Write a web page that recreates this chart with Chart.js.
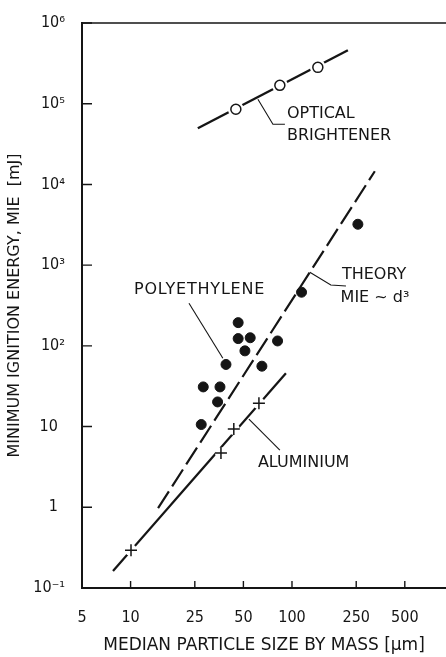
<!DOCTYPE html>
<html>
<head>
<meta charset="utf-8">
<script src="https://cdn.jsdelivr.net/npm/chart.js@4/dist/chart.umd.min.js"></script>
<style>
html,body{margin:0;padding:0;background:#fff;}
#wrap{width:446px;height:657px;overflow:hidden;}
canvas{display:block;}
</style>
</head>
<body>
<div id="wrap"><canvas id="c" width="446" height="657"></canvas></div>
<script>
// ---- tick values & labels ----
const xTickValues = [5, 10, 25, 50, 100, 250, 500];
const xTickLabels = ['5', '10', '25', '50', '100', '250', '500'];
const yTickValues = [0.1, 1, 10, 100, 1000, 1e4, 1e5, 1e6];
const yTickLabels = ['10\u207B\u00B9', '1\u2002', '10\u2002', '10\u00B2', '10\u00B3', '10\u2074', '10\u2075', '10\u2076'];

// ---- optical brightener ----
const opticalSize = [44.9, 84.1, 144.6];
const opticalMIE = [85300, 169000, 282000];
const opticalLineSize = [26.1, 222];
const opticalLineMIE = [49700, 459000];

// ---- polyethylene ----
const polySize = [256, 114.6, 46.4, 46.4, 55.1, 81.4, 51.1, 39.0, 65.1, 28.2, 35.8, 34.6, 27.4];
const polyMIE = [3210, 462, 194, 123, 126, 115, 86.7, 58.8, 56.0, 31.0, 31.0, 20.2, 10.6];

// ---- theory MIE ~ d^3 ----
const theorySize = [14.8, 326];
const theoryMIE = [0.975, 14560];

// ---- aluminium ----
const aluSize = [10.06, 36.3, 43.6, 62.4];
const aluMIE = [0.294, 4.69, 9.3, 19.5];
const aluLineSize = [7.78, 91.7];
const aluLineMIE = [0.162, 45.8];

// ---- annotation labels (data coordinates) ----
const labelTexts = ['OPTICAL', 'BRIGHTENER', 'THEORY', 'MIE ~ d\u00B3', 'POLYETHYLENE', 'ALUMINIUM'];
const labelSize = [93, 93, 204, 200, 10.5, 61.5];
const labelMIE = [74000, 39500, 750, 389, 489, 3.52];
const leaderSize = [[61.5, 76.2, 90.4], [129, 174, 216], [23.0, 37.3], [54.1, 84.1]];
const leaderMIE = [[113500, 55600, 55600], [817, 568, 552], [337, 70.3], [12.4, 5.1]];

const X_TITLE = 'MEDIAN PARTICLE SIZE BY MASS [\u00B5m]';
const Y_TITLE = 'MINIMUM IGNITION ENERGY, MIE  [mJ]';

const zip = (xs, ys) => xs.map((x, i) => ({x: x, y: ys[i]}));
const INK = '#151515';

const frame = {
  id: 'frame',
  afterDatasetsDraw(chart) {
    const ctx = chart.ctx, a = chart.chartArea, xs = chart.scales.x, ys = chart.scales.y;
    ctx.save();
    ctx.strokeStyle = INK;
    ctx.lineWidth = 1.6;
    ctx.beginPath();
    ctx.moveTo(a.left, a.top); ctx.lineTo(a.right, a.top);
    ctx.stroke();
    ctx.lineWidth = 1.4;
    ctx.beginPath();
    yTickValues.forEach(v => { const p = ys.getPixelForValue(v); ctx.moveTo(a.left, p); ctx.lineTo(a.left + 10, p); });
    xTickValues.slice(1).forEach(v => { const p = xs.getPixelForValue(v); ctx.moveTo(p, a.bottom); ctx.lineTo(p, a.bottom - 7); });
    ctx.stroke();
    // leaders
    ctx.lineWidth = 1.1;
    leaderSize.forEach((xsArr, k) => {
      ctx.beginPath();
      xsArr.forEach((xv, i) => {
        const px = xs.getPixelForValue(xv), py = ys.getPixelForValue(leaderMIE[k][i]);
        if (i === 0) ctx.moveTo(px, py); else ctx.lineTo(px, py);
      });
      ctx.stroke();
    });
    // labels
    ctx.fillStyle = INK;
    ctx.font = '16px "DejaVu Sans"';
    ctx.textAlign = 'left';
    ctx.textBaseline = 'middle';
    labelTexts.forEach((t, i) => {
      if (t === 'POLYETHYLENE') { try { ctx.letterSpacing = '0.8px'; } catch (e) {} }
      else { try { ctx.letterSpacing = '0px'; } catch (e) {} }
      ctx.fillText(t, xs.getPixelForValue(labelSize[i]), ys.getPixelForValue(labelMIE[i]));
    });
    ctx.restore();
  }
};

new Chart(document.getElementById('c'), {
  type: 'scatter',
  data: {
    datasets: [
      {data: zip(opticalLineSize, opticalLineMIE), showLine: true, borderColor: INK, borderWidth: 2.4, pointRadius: 0, order: 10},
      {data: zip(opticalSize, opticalMIE), pointRadius: 8, pointBackgroundColor: '#fff', pointBorderWidth: 0, pointBorderColor: '#fff', order: 5},
      {data: zip(opticalSize, opticalMIE), pointRadius: 5, pointStyle: 'circle', pointBackgroundColor: '#fff', pointBorderColor: INK, pointBorderWidth: 1.5, order: 1},
      {data: zip(theorySize, theoryMIE), showLine: true, borderColor: INK, borderWidth: 2.2, borderDash: [20, 6], pointRadius: 0, order: 10},
      {data: zip(polySize, polyMIE), pointRadius: 5, pointBackgroundColor: INK, pointBorderColor: INK, pointBorderWidth: 1, order: 1},
      {data: zip(aluLineSize, aluLineMIE), showLine: true, borderColor: INK, borderWidth: 2.2, pointRadius: 0, order: 10},
      {data: zip(aluSize, aluMIE), pointRadius: 6, pointBackgroundColor: '#fff', pointBorderWidth: 0, pointBorderColor: '#fff', order: 5},
      {data: zip(aluSize, aluMIE), pointRadius: 6, pointStyle: 'cross', pointBorderColor: INK, pointBorderWidth: 1.5, order: 1}
    ]
  },
  options: {
    responsive: false,
    devicePixelRatio: 1,
    animation: false,
    events: [],
    clip: false,
    layout: {autoPadding: false, padding: {top: 23, right: 0, left: 0, bottom: 0}},
    plugins: {legend: {display: false}, tooltip: {enabled: false}},
    scales: {
      x: {
        type: 'logarithmic', position: 'bottom', min: 5, max: 900,
        afterBuildTicks: s => { s.ticks = xTickValues.map(v => ({value: v})); },
        afterFit: s => { s.height = 69; s.paddingLeft = 0; s.paddingRight = 0; },
        grid: {display: false},
        border: {display: true, color: INK, width: 2},
        ticks: {
          autoSkip: false, maxRotation: 0, padding: 12, color: INK,
          font: {family: '"DejaVu Sans Condensed"', size: 16},
          callback: (v, i) => xTickLabels[i]
        },
        title: {display: true, text: X_TITLE, color: INK, font: {family: '"DejaVu Sans"', size: 17}, padding: {top: 0, bottom: 1}}
      },
      y: {
        type: 'logarithmic', position: 'left', min: 0.1, max: 1e6,
        afterBuildTicks: s => { s.ticks = yTickValues.map(v => ({value: v})); },
        afterFit: s => { s.width = 82; s.paddingTop = 0; s.paddingBottom = 0; },
        grid: {display: false},
        border: {display: true, color: INK, width: 2},
        ticks: {
          autoSkip: false, padding: 9, color: INK,
          font: {family: '"DejaVu Sans Condensed"', size: 16},
          callback: (v, i) => yTickLabels[i]
        },
        title: {display: true, text: Y_TITLE, color: INK, font: {family: '"DejaVu Sans"', size: 16}, padding: {top: 5, bottom: 0}}
      }
    }
  },
  plugins: [frame]
});
</script>
</body>
</html>
